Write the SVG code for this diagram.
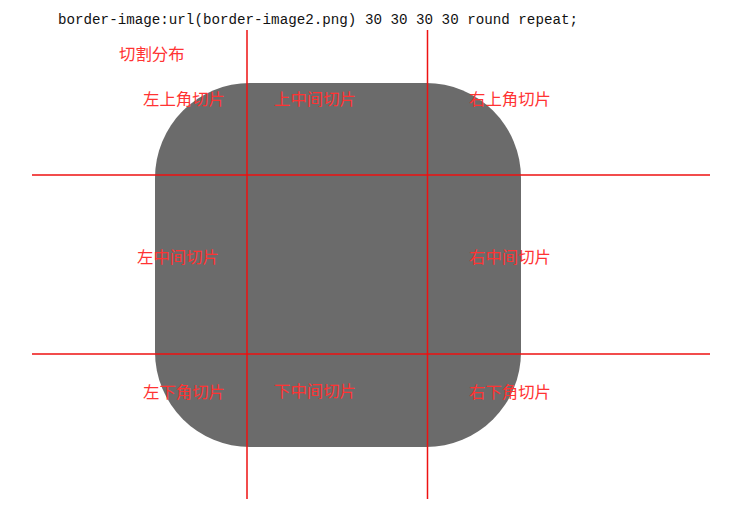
<svg xmlns="http://www.w3.org/2000/svg" width="748" height="518" viewBox="0 0 748 518">
<style>
.lbl{font-family:"Noto Sans CJK SC","Noto Sans",sans-serif;font-size:16.4px;fill:#ff3333}
.cut{stroke:#ee1111;stroke-width:1.5;fill:none}
.code{font-family:"Liberation Mono","DejaVu Sans Mono",monospace;font-size:14px;fill:#111}
</style>
<rect width="748" height="518" fill="#ffffff"/>
<g id="title">
<text class="code" x="58" y="24" textLength="520" lengthAdjust="spacingAndGlyphs">border-image:url(border-image2.png) 30 30 30 30 round repeat;</text>
<text class="lbl" x="119" y="60">切割分布</text>
</g>
<g id="box">
<rect x="155" y="83" width="366" height="364" rx="95" ry="95" fill="#6b6b6b"/>
</g>
<g id="connectors">
<line class="cut" x1="247" y1="30" x2="247" y2="499"/>
<line class="cut" x1="427.5" y1="30" x2="427.5" y2="499"/>
<line class="cut" x1="32" y1="175" x2="710" y2="175"/>
<line class="cut" x1="32" y1="354" x2="710" y2="354"/>
</g>
<g id="labels">
<text class="lbl" x="143" y="105">左上角切片</text>
<text class="lbl" x="274" y="105">上中间切片</text>
<text class="lbl" x="469" y="105">右上角切片</text>
<text class="lbl" x="137" y="263">左中间切片</text>
<text class="lbl" x="469" y="263">右中间切片</text>
<text class="lbl" x="143" y="398">左下角切片</text>
<text class="lbl" x="274" y="397">下中间切片</text>
<text class="lbl" x="469" y="398">右下角切片</text>
</g>
</svg>
